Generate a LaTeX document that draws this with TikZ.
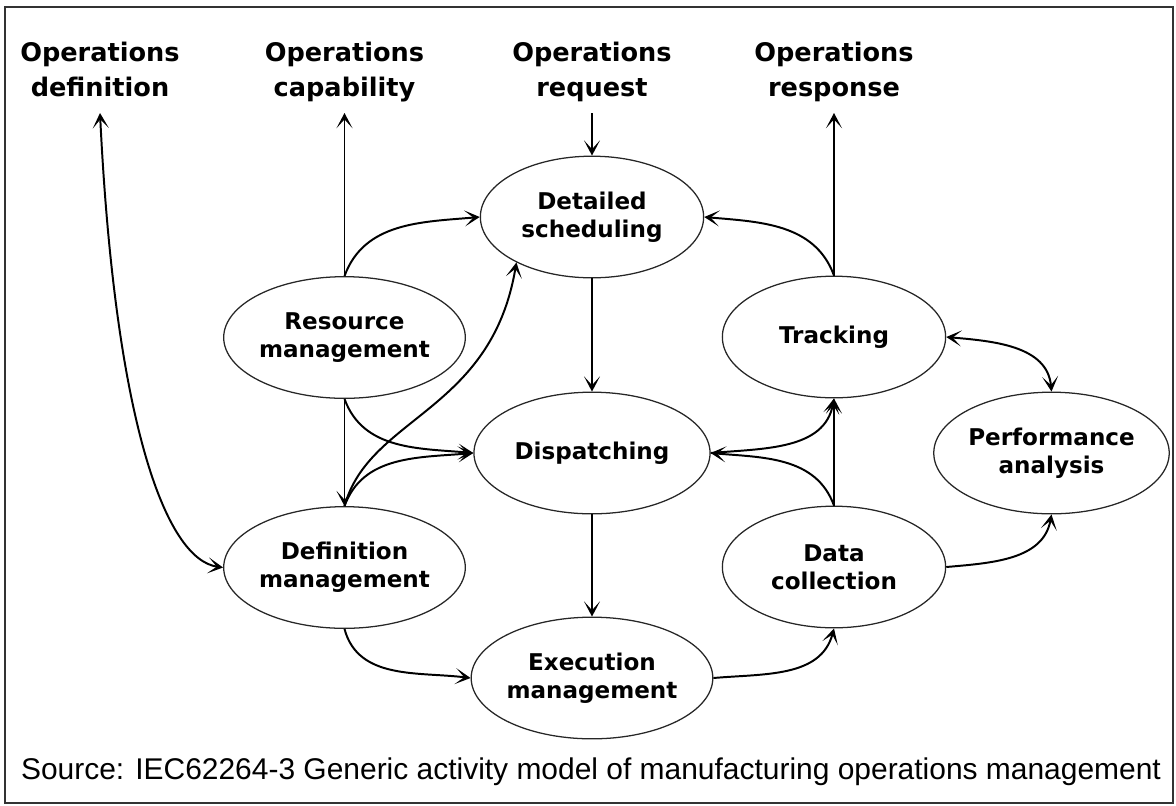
\documentclass[tikz,border=0pt]{standalone}
\usepackage{fontspec}
\usepackage{tikz}
\usetikzlibrary{arrows.meta, shapes.geometric}

\newfontfamily\diagfont{DejaVu Sans}
\newfontfamily\srcfont{Liberation Sans}

\begin{document}
\begin{tikzpicture}[x=0.0125cm, y=0.0125cm,
    activity/.style={draw=black!85, line width=0.45pt, ellipse, minimum width=2.79cm, minimum height=1.52cm,
        inner sep=0pt, align=center, font=\diagfont\bfseries\fontsize{8.2}{10.1}\selectfont},
    oplabel/.style={anchor=south, inner xsep=0pt, inner ysep=3pt, text depth=0.25em, align=center,
        font=\diagfont\bfseries\fontsize{9.1}{12.6}\selectfont},
    flow/.style={-{Stealth[length=1.9mm, width=2mm, inset=1.1mm]}, line width=0.7pt},
    dflow/.style={{Stealth[length=1.9mm, width=2mm, inset=1.1mm]}-{Stealth[length=1.9mm, width=2mm, inset=1.1mm]}, line width=0.7pt}]
    \useasboundingbox (0,0) rectangle (1176,-805);
    \draw[line width=0.8pt, black!80] (5,-7) rectangle (1173,-803);

    \node[oplabel] at (100,-113) (opdef) {Operations\\definition};
    \node[oplabel] at (344.5,-113) (opcap) {Operations\\capability};
    \node[oplabel] at (592,-113) (opreq) {Operations\\request};
    \node[oplabel] at (834,-113) (opresp) {Operations\\response};

    \node[activity] at (592,-217) (ds) {Detailed\\scheduling};
    \node[activity] at (344.5,-337.5) (rm) {Resource\\management};
    \node[activity] at (834,-337) (trk) {Tracking};
    \node[activity, minimum width=2.95cm] at (592,-453) (dsp) {Dispatching};
    \node[activity] at (1051.5,-453) (pa) {Performance\\analysis};
    \node[activity] at (344.5,-567.5) (dm) {Definition\\management};
    \node[activity] at (834,-567) (dc) {Data\\collection};
    \node[activity] at (592,-678) (em) {Execution\\management};

    \node[font=\srcfont\fontsize{10.65}{12}\selectfont] at (591,-772) (src)
        {Source: IEC62264-3 Generic activity model of manufacturing operations management};

    \draw[flow] (opreq.south) -- (ds.north);
    \draw[flow] (rm.north) -- (opcap.south);
    \draw[flow] (trk.north) -- (opresp.south);
    \draw[flow] (ds.south) -- (dsp.north);
    \draw[flow] (dsp.south) -- (em.north);
    \draw[flow] (rm.south) -- (dm.north);
    \draw[flow] (dc.north) -- (trk.south);

    \draw[flow] (rm.north) to[out=70, in=185] (ds.west);
    \draw[flow] (trk.north) to[out=110, in=-5] (ds.east);
    \draw[dflow] (trk.east) to[out=-5, in=95] (pa.north);
    \draw[flow] (rm.south) to[out=-70, in=175] (dsp.west);
    \draw[flow] (dm.north) to[out=70, in=185] (dsp.west);
    \draw[flow] (dm.north) .. controls +(25,90) and +(-25,-150) .. (ds.-149);
    \draw[flow] (dm.south) to[out=-75, in=173] (em.west);
    \draw[flow] (em.east) to[out=5, in=-105] (dc.south);
    \draw[flow] (dc.north) to[out=110, in=-5] (dsp.east);
    \draw[flow] (dsp.east) to[out=5, in=-100] (trk.south);
    \draw[flow] (dc.east) to[out=5, in=-100] (pa.south);
    \draw[dflow] (opdef.south) .. controls +(15,-307) and +(-58,8) .. (dm.west);
\end{tikzpicture}
\end{document}
